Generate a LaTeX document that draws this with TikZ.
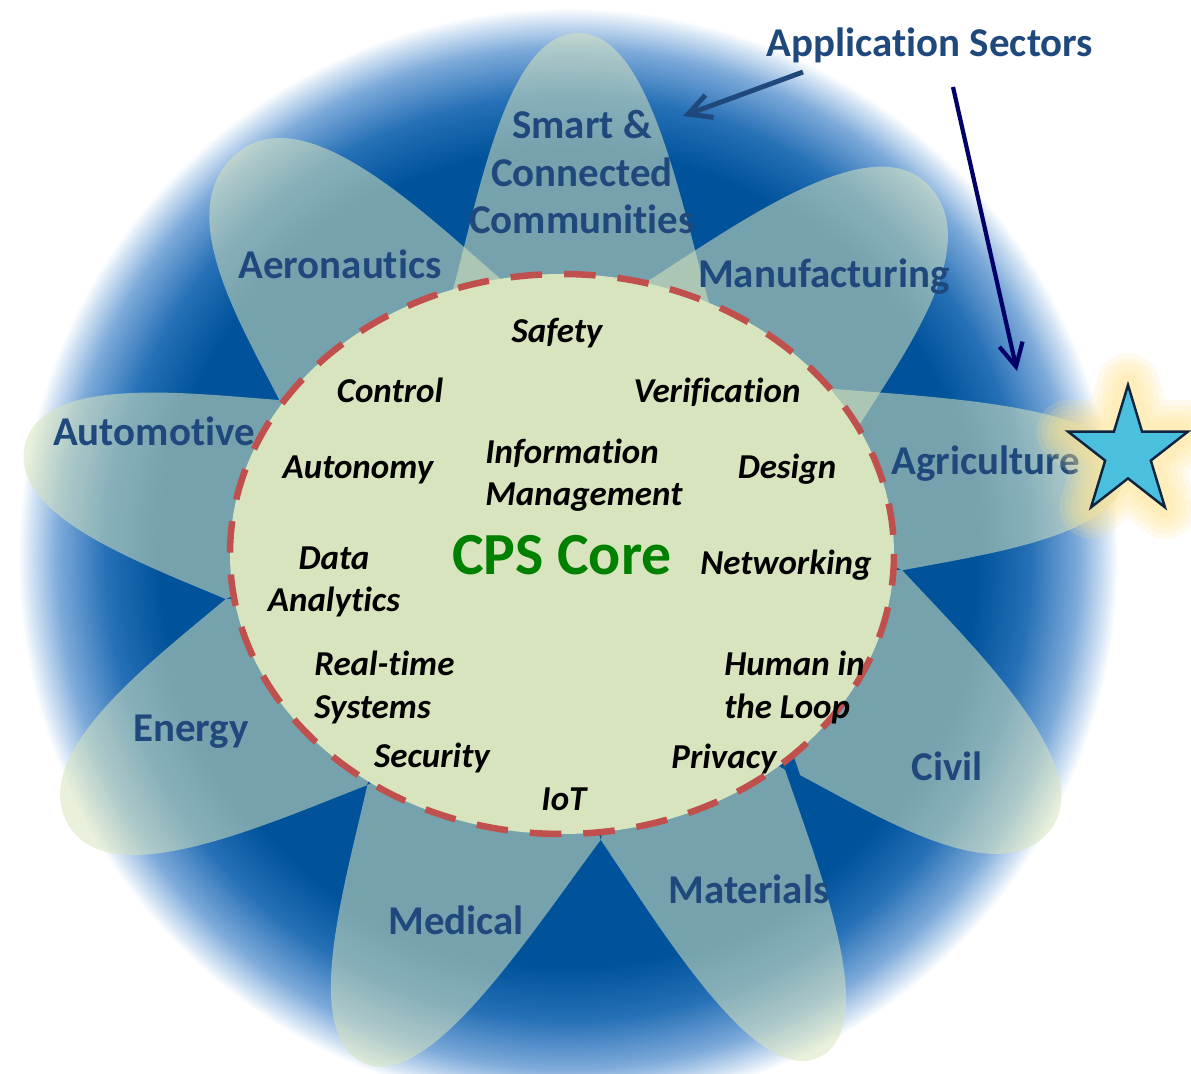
\documentclass[tikz,border=0pt]{standalone}
\usepackage{fontspec}
\setmainfont{Carlito}[Ligatures=NoCommon]
\usetikzlibrary{arrows.meta}

\definecolor{haloblue}{RGB}{0,83,155}
\definecolor{halomid}{RGB}{38,112,182}
\definecolor{halolight}{RGB}{125,170,218}
\definecolor{halopale}{RGB}{215,230,245}
\definecolor{petalgreen}{RGB}{215,228,189}
\definecolor{corered}{RGB}{192,80,77}
\definecolor{sectorblue}{RGB}{31,73,125}
\definecolor{arrownavy}{RGB}{0,0,102}
\definecolor{coregreen}{RGB}{0,128,0}
\definecolor{starcyan}{RGB}{75,192,222}
\definecolor{staredge}{RGB}{15,36,62}
\definecolor{starglow}{RGB}{255,226,140}

% blue disc, dark inside and fading out to white at the rim
\pgfdeclareradialshading{sectorhalo}{\pgfpoint{0bp}{0bp}}{%
  color(0bp)=(haloblue); color(18.6bp)=(haloblue); color(21bp)=(halomid);
  color(23.2bp)=(halolight); color(24.5bp)=(halopale); color(25bp)=(white);
  color(50bp)=(white)}

% one petal, drawn around the middle of its foot:
% foot x, foot y, angle, one foot corner (along, across), length, roundness
\newcommand{\sectorpetal}[7]{%
  \fill[petalfill, shift={(#1,#2)}, rotate=#3]
    (-150,0) -- (#4,#5)
    .. controls ({#4+0.4*(#6-(#4))},{(0.5+0.5*#7)*(#5)}) and (#6,{#7*(#5)}) .. (#6,0)
    .. controls (#6,{-#7*(#5)}) and ({-1*(#4)+0.4*(#6+(#4))},{-(0.5+0.5*#7)*(#5)})
    .. ({-1*(#4)},{-1*(#5)})
    -- cycle;}

\newcommand{\sectorstar}{(-90:67.6) -- (-54:25.8) -- (-18:67.6) -- (18:25.8)
  -- (54:67.6) -- (90:25.8) -- (126:67.6) -- (162:25.8) -- (198:67.6)
  -- (234:25.8) -- cycle}

\begin{document}
\begin{tikzpicture}[x=0.02cm, y=-0.02cm,
    sector/.style={font=\fontsize{23.3}{27.2}\selectfont\bfseries, text=sectorblue,
      align=center, inner sep=0pt, anchor=base},
    topic/.style={font=\fontsize{19.9}{24.4}\selectfont\bfseries\itshape,
      inner sep=0pt, anchor=base},
    petalfill/.style={fill=petalgreen, fill opacity=0.55},
    corering/.style={fill=petalgreen, draw=corered, line width=3.7pt,
      dash pattern=on 18pt off 12.5pt},
    pointer/.style={-{Straight Barb[length=13pt,width=13.5pt]}},
    glow/.style={draw=starglow, line join=round, draw opacity=0.16}]

  \useasboundingbox (0,0) rectangle (1191,1074);
  \clip (0,0) rectangle (1191,1074);

  \shade[shading=sectorhalo] (568,558) circle [radius=550];

  % petals, one per application sector
  \foreach \mx/\my/\ang/\cs/\ct/\reach/\round in {
      581/296.5/90.65/8/-128/263.5/0.55,
      751/355.5/43.9/-27/-126/246/0.65,
      867/479.5/2.1/-32/-92/258/0.7,
      851/672.5/-38.4/-24/-112/254/0.7,
      693/805/-63.3/-10/98/282/0.7,
      484/812.5/-115.7/26/117/278/0.6,
      296.5/692/-149.8/14/116/264/0.7,
      252.5/499.5/166.5/-3/103/234/0.7,
      390/339.5/129.2/23/-124/241/0.7}
    \sectorpetal{\mx}{\my}{\ang}{\cs}{\ct}{\reach}{\round};

  \draw[corering] (562,554) ellipse [x radius=332, y radius=280];

  \node at (562,575) [inner sep=0pt, anchor=base, text=coregreen,
    font=\fontsize{34}{40}\selectfont\bfseries] (core) {CPS Core};

  \node at (557,343) [topic] (safety) {Safety};
  \node at (390,403) [topic] (control) {Control};
  \node at (717,403) [topic] (verif) {Verification};
  \node at (358,479) [topic] (autonomy) {Autonomy};
  \node at (485,506) [topic, anchor=base west, align=left] (infomgmt) {Information\\Management};
  \node at (787,479) [topic] (design) {Design};
  \node at (334,612) [topic, align=center] (analytics) {Data\\Analytics};
  \node at (786,575) [topic] (networking) {Networking};
  \node at (314,718) [topic, anchor=base west, align=left] (realtime) {Real-time\\Systems};
  \node at (724,718) [topic, anchor=base west, align=left] (human) {Human in\\the Loop};
  \node at (432,767) [topic] (security) {Security};
  \node at (724,768) [topic] (privacy) {Privacy};
  \node at (564,810) [topic] (iot) {IoT};

  \node at (582,234) [sector] (smart) {Smart \&\\Connected\\Communities};
  \node at (340,279) [sector] (aero) {Aeronautics};
  \node at (824,288) [sector] (manuf) {Manufacturing};
  \node at (154,446) [sector] (auto) {Automotive};
  \node at (986,475) [sector] (agri) {Agriculture};
  \node at (191,742) [sector] (energy) {Energy};
  \node at (947,780) [sector] (civil) {Civil};
  \node at (749,903) [sector] (materials) {Materials};
  \node at (456,934) [sector] (medical) {Medical};

  % highlighted sector
  \begin{scope}[shift={(1128,452.6)}, xscale=0.93]
    \foreach \g in {36,30,24,18,12}
      \draw[glow, line width=\g pt] \sectorstar;
    \draw[fill=starcyan, draw=staredge, line width=1.4pt, line join=miter] \sectorstar;
  \end{scope}

  \node at (930,57) [sector] (appsec) {Application Sectors};
  \coordinate (appsecL) at (803,72);
  \coordinate (appsecR) at (953,87);
  \coordinate (smarttip) at (683,116);
  \coordinate (agritip) at (1017,371);

  \draw[pointer, draw=sectorblue, line width=2.8pt] (appsecL) -- (smarttip);
  \draw[pointer, draw=arrownavy, line width=2.4pt] (appsecR) -- (agritip);

\end{tikzpicture}
\end{document}
